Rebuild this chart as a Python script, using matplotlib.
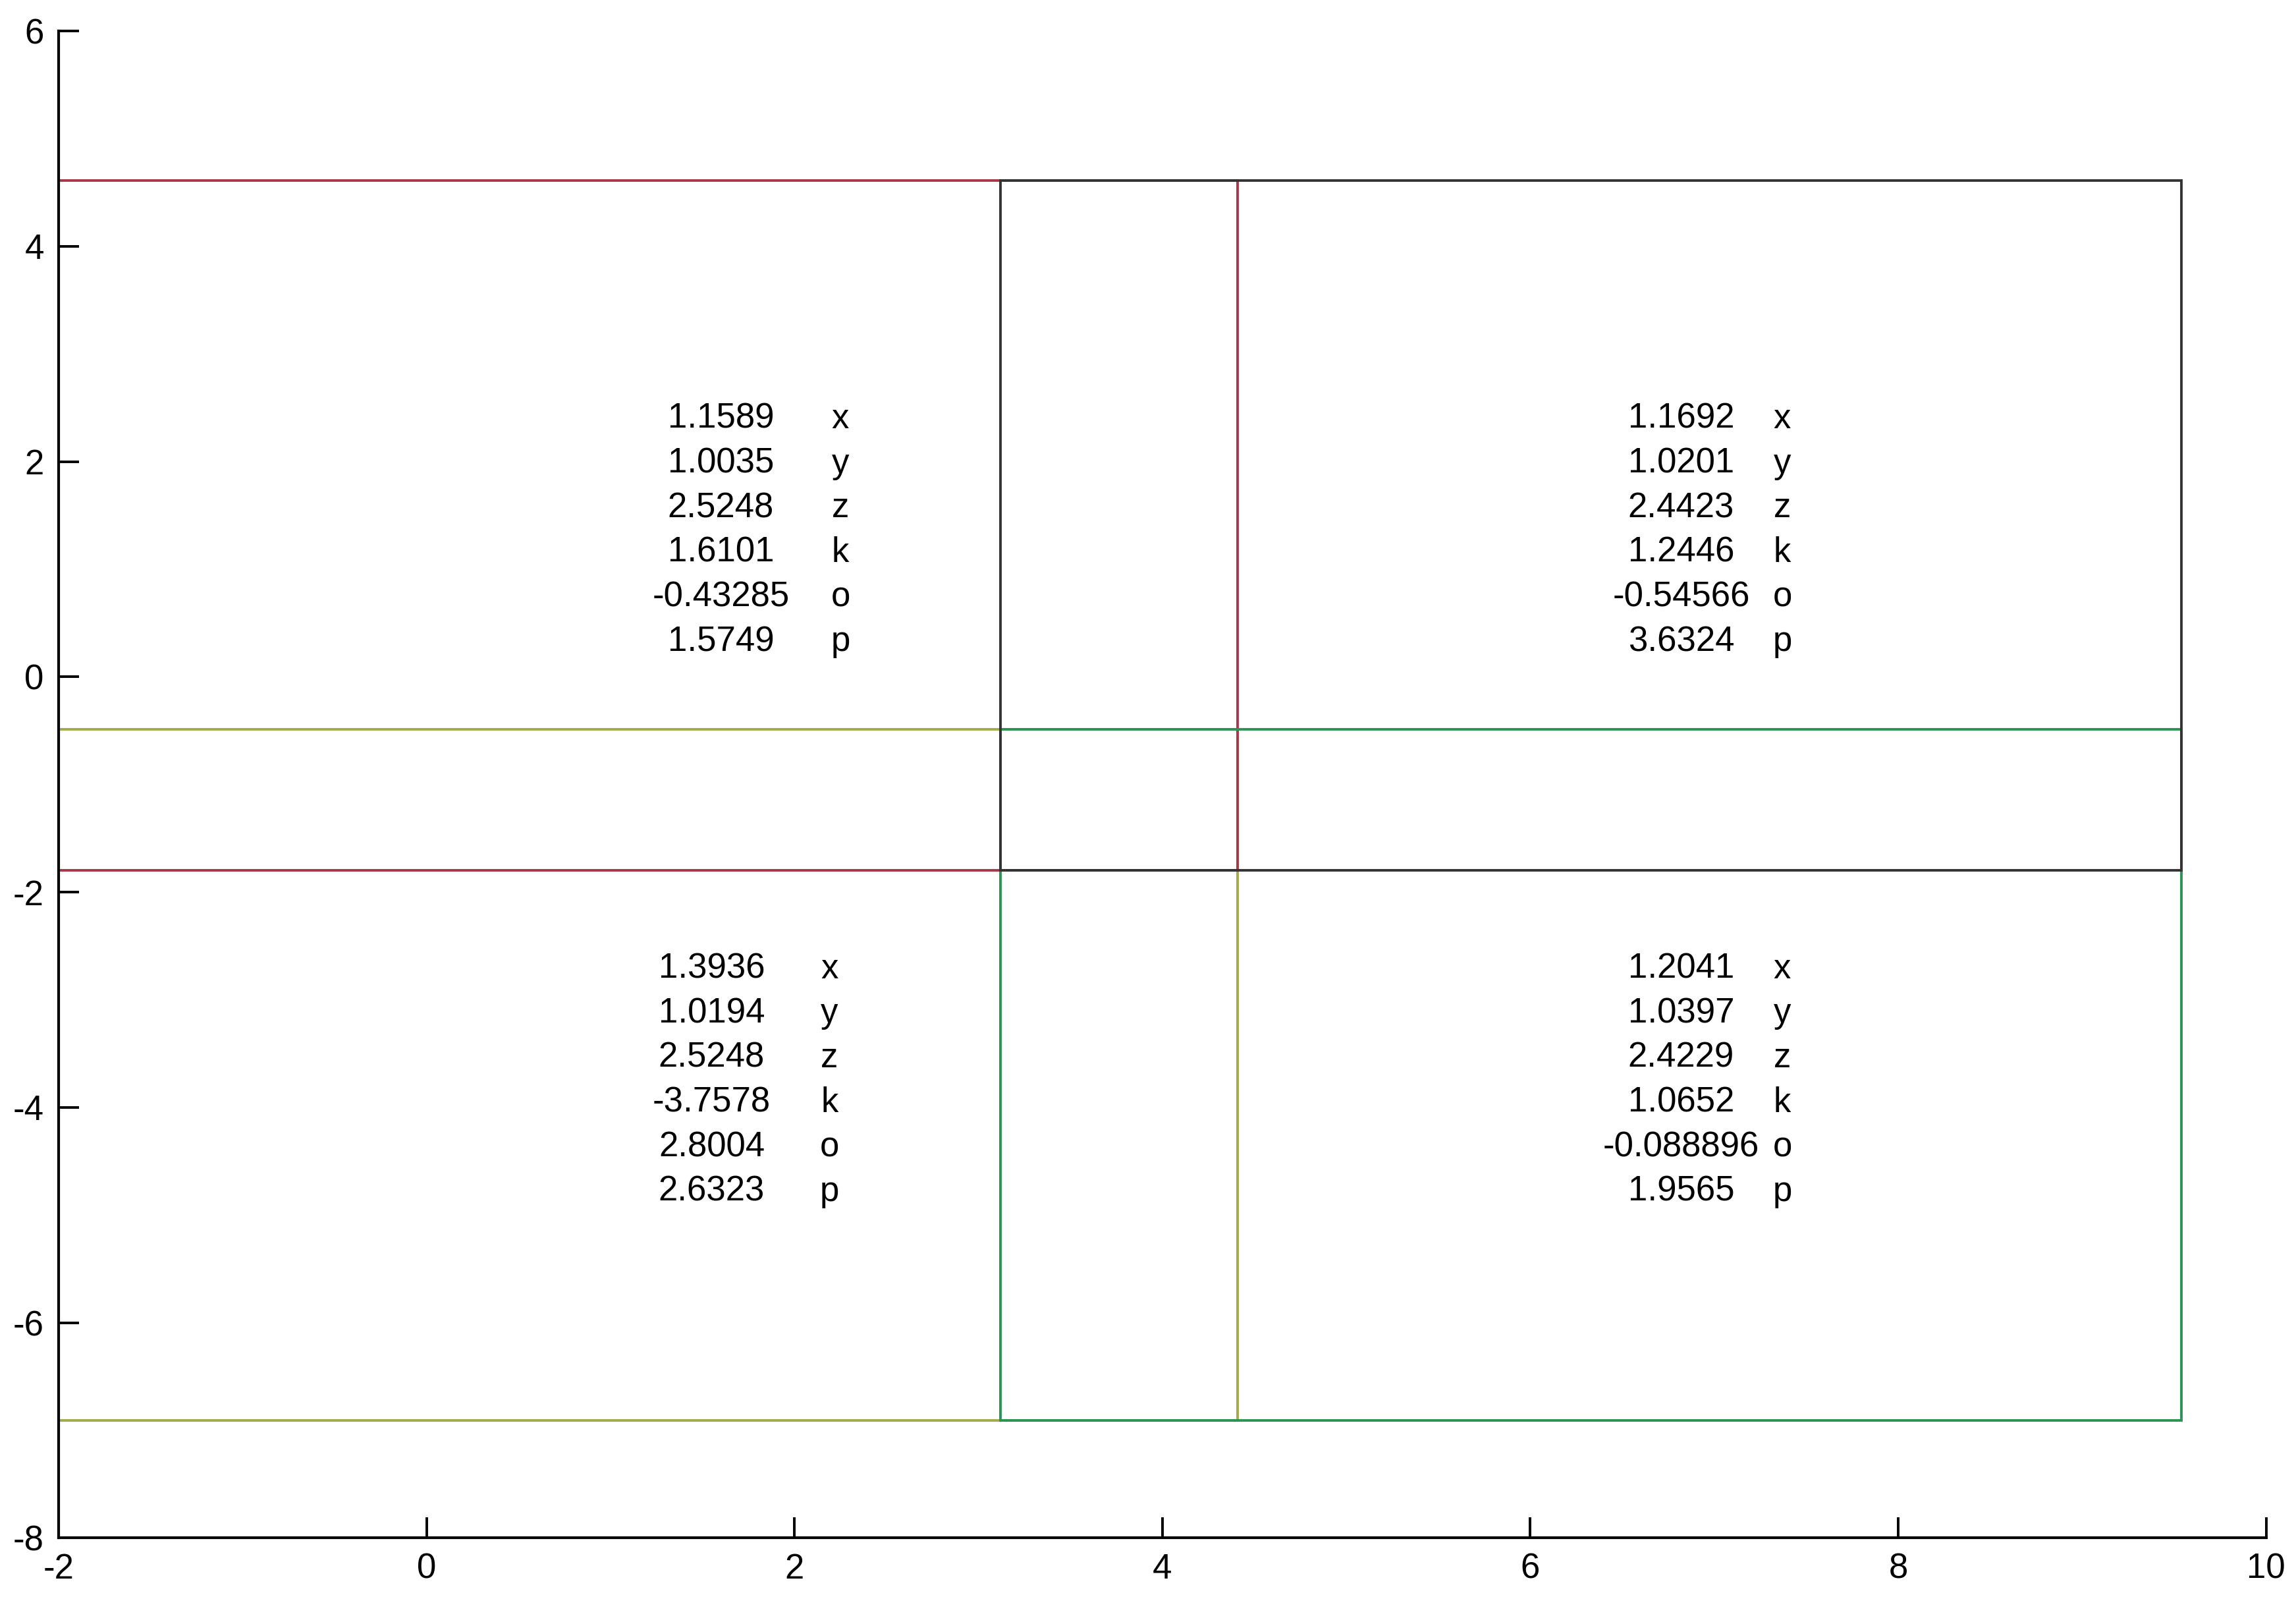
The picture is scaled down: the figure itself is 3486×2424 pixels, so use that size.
import matplotlib.pyplot as plt
from matplotlib.patches import Rectangle

plt.rcParams['font.family'] = ['Liberation Sans', 'DejaVu Sans']
plt.rcParams['axes.unicode_minus'] = False

# rectangles, in drawing order: yellow, red, green, black
rect_x0 = [-2.0, -2.0, 3.12, 3.12]
rect_x1 = [4.41, 4.41, 9.54, 9.54]
rect_y0 = [-6.91, -1.80, -6.91, -1.80]
rect_y1 = [-0.49, 4.61, -0.49, 4.61]
rect_colors = ['#a6a84c', '#a83848', '#2a9452', '#333333']

# text blocks
names = ['x', 'y', 'z', 'k', 'o', 'p']
vals_tl = [1.1589, 1.0035, 2.5248, 1.6101, -0.43285, 1.5749]
vals_tr = [1.1692, 1.0201, 2.4423, 1.2446, -0.54566, 3.6324]
vals_bl = [1.3936, 1.0194, 2.5248, -3.7578, 2.8004, 2.6323]
vals_br = [1.2041, 1.0397, 2.4229, 1.0652, -0.088896, 1.9565]

fig = plt.figure(figsize=(17.43, 12.12), dpi=200)
ax = fig.add_axes([0.0255, 0.037, 0.9615, 0.9435])

for x0, x1, y0, y1, c in zip(rect_x0, rect_x1, rect_y0, rect_y1, rect_colors):
    ax.add_patch(Rectangle((x0, y0), x1 - x0, y1 - y0, fill=False,
                           edgecolor=c, lw=1.4))

# (values, number column x, letter column x, first row y)
blocks = [(vals_tl, 1.60, 2.25, 2.43),
          (vals_tr, 6.82, 7.37, 2.43),
          (vals_bl, 1.55, 2.19, -2.68),
          (vals_br, 6.82, 7.37, -2.68)]
step = 0.414
for vals, xn, xl, y0 in blocks:
    for i, (v, n) in enumerate(zip(vals, names)):
        y = y0 - i * step
        ax.text(xn, y, '%.5g' % v, ha='center', va='center_baseline', fontsize=19)
        ax.text(xl, y, n, ha='center', va='center_baseline', fontsize=19)

ax.set_xlim(-2, 10)
ax.set_ylim(-8, 6)
ax.set_xticks(range(-2, 11, 2))
ax.set_yticks(range(-8, 7, 2))
ax.spines['top'].set_visible(False)
ax.spines['right'].set_visible(False)
ax.spines['left'].set_linewidth(1.5)
ax.spines['bottom'].set_linewidth(1.5)
ax.tick_params(direction='in', length=11, width=1.4, labelsize=19, pad=8)

fig.savefig('out.png', dpi=200)
